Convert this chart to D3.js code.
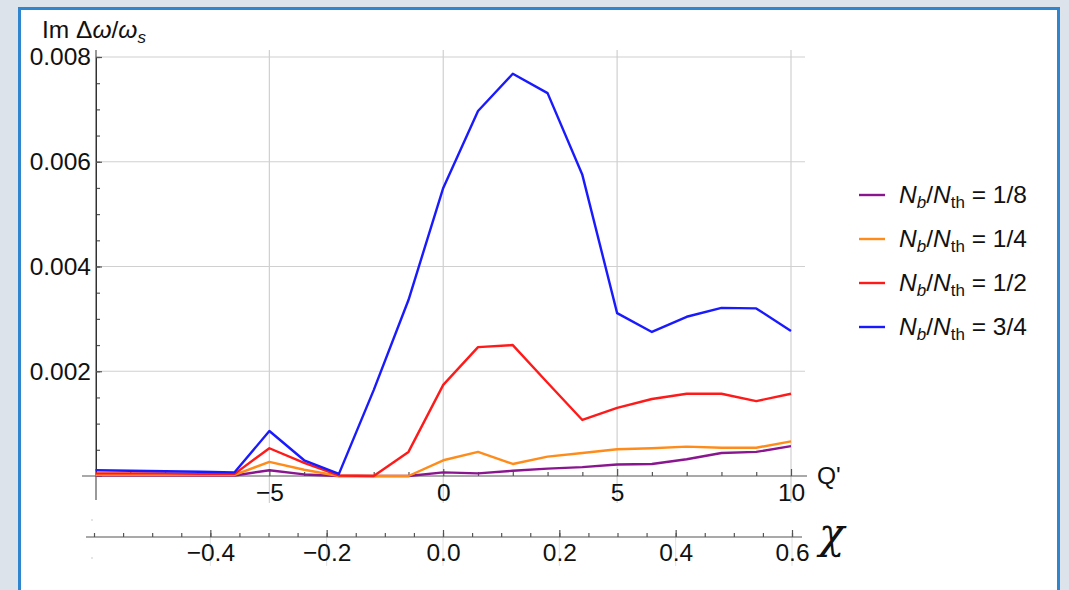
<!DOCTYPE html>
<html>
<head>
<meta charset="utf-8">
<script src="https://cdn.jsdelivr.net/npm/d3@7"></script>
<style>
  body { margin: 0; background: #dde3ea; }
  svg { display: block; font-family: "Liberation Sans", Arial, sans-serif; }
</style>
</head>
<body>
<svg id="chart" width="1069" height="590"></svg>
<script>
// Q' values (one point per integer)
const qPrime = d3.range(-10, 11);

// Im Δω/ω_s for each bunch intensity
const nb18 = [0.00001, 0.00001, 0.00001, 0.00001, 0.00001, 0.00011, 0.00003, 0.0, 0.0, 0.0, 0.00007,
              0.00005, 0.0001, 0.00014, 0.00017, 0.00022, 0.00023, 0.00032, 0.00044, 0.00046, 0.00057];
const nb14 = [0.00002, 0.00002, 0.00002, 0.00002, 0.00002, 0.00027, 0.00012, 0.0, 0.0, 0.0, 0.0003,
              0.00046, 0.00023, 0.00037, 0.00044, 0.00051, 0.00053, 0.00056, 0.00054, 0.00054, 0.00066];
const nb12 = [0.00005, 0.00005, 0.00005, 0.00004, 0.00004, 0.00053, 0.00025, 0.00001, 0.0, 0.00046, 0.00174,
              0.00246, 0.0025, 0.00178, 0.00107, 0.0013, 0.00147, 0.00157, 0.00157, 0.00143, 0.00157];
const nb34 = [0.00011, 0.0001, 0.00009, 0.00008, 0.00007, 0.00086, 0.0003, 0.00004, 0.00164, 0.00336, 0.0055,
              0.00697, 0.00768, 0.00731, 0.00575, 0.00311, 0.00275, 0.00304, 0.00321, 0.0032, 0.00277];

const seriesNames = ["1/8", "1/4", "1/2", "3/4"];
const seriesColors = ["#8a168f", "#ff8c1a", "#ff1a1a", "#1a1aff"];
const allSeries = [nb18, nb14, nb12, nb34];

// tick labels
const qTicks = [-5, 0, 5, 10];
const yTicks = [0.002, 0.004, 0.006, 0.008];
const chiTicks = [-0.4, -0.2, 0.0, 0.2, 0.4, 0.6];

const svg = d3.select("#chart");
const fs = 24.5;

// white panel with blue frame
svg.append("rect")
  .attr("x", 19.5).attr("y", 8.5)
  .attr("width", 1039).attr("height", 600)
  .attr("fill", "#fff")
  .attr("stroke", "#2f86cf").attr("stroke-width", 3);

const x = d3.scaleLinear().domain([-10, 10]).range([95.5, 791]);
const y = d3.scaleLinear().domain([0, 0.008]).range([476, 57]);
const chi = d3.scaleLinear().domain([-0.6, 0.6]).range([94, 792]);

const axisCol = "#555";
const gridCol = "#d0d0d0";

// grid
svg.append("g").selectAll("line").data(yTicks).join("line")
  .attr("x1", 96).attr("x2", 805)
  .attr("y1", d => y(d)).attr("y2", d => y(d))
  .attr("stroke", gridCol).attr("stroke-width", 1.2);
svg.append("g").selectAll("line").data(qTicks).join("line")
  .attr("x1", d => x(d)).attr("x2", d => x(d))
  .attr("y1", 50).attr("y2", 503)
  .attr("stroke", gridCol).attr("stroke-width", 1.2);
svg.append("g").selectAll("line").data(chiTicks).join("line")
  .attr("x1", d => chi(d)).attr("x2", d => chi(d))
  .attr("y1", 537).attr("y2", 566)
  .attr("stroke", "#e2e2e2").attr("stroke-width", 1);

// y axis
const yMinor = svg.append("g").attr("transform", "translate(96,0)")
  .call(d3.axisRight(y).tickValues(d3.range(0.0005, 0.00801, 0.0005)).tickSize(4).tickFormat(""));
const yMajor = svg.append("g").attr("transform", "translate(96,0)")
  .call(d3.axisLeft(y).tickValues(yTicks).tickSize(0).tickPadding(5).tickFormat(d3.format(".3f")));
svg.append("g").attr("transform", "translate(96,0)")
  .call(d3.axisRight(y).tickValues(yTicks).tickSize(6).tickFormat(""));
[yMinor, yMajor].forEach(g => g.select(".domain").remove());
svg.append("line").attr("x1", 96).attr("x2", 96).attr("y1", 50).attr("y2", 500)
  .attr("stroke", axisCol).attr("stroke-width", 1.2);

// Q' axis
const xMinor = svg.append("g").attr("transform", "translate(0,476)")
  .call(d3.axisBottom(x).tickValues(qPrime.filter(d => d % 5 !== 0)).tickSize(-4).tickFormat(""));
const xMajor = svg.append("g").attr("transform", "translate(0,476)")
  .call(d3.axisBottom(x).tickValues(qTicks).tickSize(-7).tickPadding(8)
    .tickFormat(d => d < 0 ? "\u2212" + Math.abs(d) : d));
[xMinor, xMajor].forEach(g => g.select(".domain").remove());
svg.append("line").attr("x1", 82).attr("x2", 807).attr("y1", 476).attr("y2", 476)
  .attr("stroke", axisCol).attr("stroke-width", 1.2);

// chi axis
const cMinor = svg.append("g").attr("transform", "translate(0,537)")
  .call(d3.axisBottom(chi).tickValues(d3.range(-0.6, 0.601, 0.05)).tickSize(-4).tickFormat(""));
const cMajor = svg.append("g").attr("transform", "translate(0,537)")
  .call(d3.axisBottom(chi).tickValues(chiTicks).tickSize(-7).tickPadding(7)
    .tickFormat(d => (d < 0 ? "\u2212" : "") + Math.abs(d).toFixed(1)));
[cMinor, cMajor].forEach(g => g.select(".domain").remove());
svg.append("line").attr("x1", 86).attr("x2", 802).attr("y1", 537).attr("y2", 537)
  .attr("stroke", axisCol).attr("stroke-width", 1.2);
svg.append("g").selectAll("rect").data([519, 557]).join("rect")
  .attr("x", 91.5).attr("y", d => d).attr("width", 1).attr("height", 2).attr("fill", "#ccc");

svg.selectAll(".tick line").attr("stroke", axisCol).attr("stroke-width", 1.2);
svg.selectAll(".tick text").attr("fill", "#111").attr("font-size", fs)
  .attr("font-family", "Liberation Sans, Arial, sans-serif");

// axis labels
const yl = svg.append("text").attr("x", 42).attr("y", 38).attr("font-size", fs).attr("fill", "#111");
yl.append("tspan").text("Im \u0394");
yl.append("tspan").attr("font-style", "italic").text("\u03c9");
yl.append("tspan").text("/");
yl.append("tspan").attr("font-style", "italic").text("\u03c9");
yl.append("tspan").attr("font-style", "italic").attr("font-size", 17).attr("dy", 5).text("s");

svg.append("text").attr("x", 817).attr("y", 484).attr("font-size", fs).attr("fill", "#111").text("Q'");
svg.append("text").attr("x", 819).attr("y", 548).attr("font-size", 42)
  .attr("font-family", "DejaVu Serif, Liberation Serif, serif").attr("font-style", "italic")
  .attr("fill", "#111").text("\u03c7");

// lines
const line = d3.line().x((d, i) => x(qPrime[i])).y(d => y(d));
svg.append("g").selectAll("path").data(allSeries).join("path")
  .attr("d", line)
  .attr("fill", "none")
  .attr("stroke", (d, i) => seriesColors[i])
  .attr("stroke-width", 2.4)
  .attr("stroke-linejoin", "round");

// legend
const leg = svg.append("g").selectAll("g").data(seriesNames).join("g")
  .attr("transform", (d, i) => `translate(859,${195 + i * 44})`);
leg.append("line").attr("x1", 0).attr("x2", 26).attr("y1", 0).attr("y2", 0)
  .attr("stroke", (d, i) => seriesColors[i]).attr("stroke-width", 2.4);
const lt = leg.append("text").attr("x", 40).attr("y", 8).attr("font-size", fs).attr("fill", "#111");
lt.append("tspan").attr("font-style", "italic").text("N");
lt.append("tspan").attr("font-style", "italic").attr("font-size", 17).attr("dy", 5).text("b");
lt.append("tspan").attr("dy", -5).text("/");
lt.append("tspan").attr("font-style", "italic").text("N");
lt.append("tspan").attr("font-size", 17).attr("dy", 5).text("th");
lt.append("tspan").attr("dy", -5).text(d => " = " + d);
</script>
</body>
</html>
